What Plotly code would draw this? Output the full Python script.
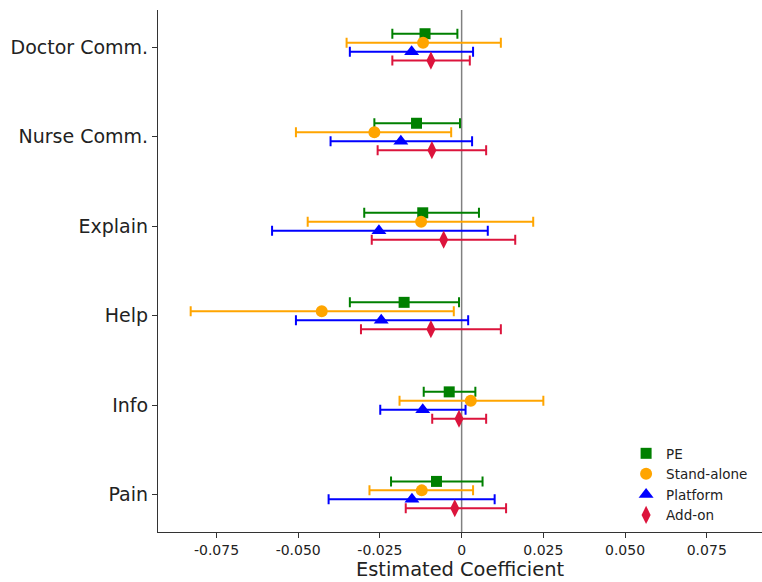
import plotly.graph_objects as go

categories = ["Doctor Comm.", "Nurse Comm.", "Explain", "Help", "Info", "Pain"]
series_names = ["PE", "Stand-alone", "Platform", "Add-on"]

pe_est = [-0.0112, -0.0138, -0.0119, -0.0176, -0.0038, -0.0077]
pe_lo = [-0.0212, -0.0267, -0.0298, -0.0342, -0.0116, -0.0216]
pe_hi = [-0.0013, -0.0005, 0.0053, -0.0008, 0.0042, 0.0064]

sa_est = [-0.0118, -0.0267, -0.0124, -0.0428, 0.0028, -0.0122]
sa_lo = [-0.0352, -0.0507, -0.0471, -0.0829, -0.0190, -0.0282]
sa_hi = [0.0120, -0.0032, 0.0219, -0.0024, 0.0250, 0.0035]

pl_est = [-0.0153, -0.0186, -0.0253, -0.0246, -0.0119, -0.0152]
pl_lo = [-0.0342, -0.0401, -0.0580, -0.0507, -0.0249, -0.0407]
pl_hi = [0.0035, 0.0032, 0.0080, 0.0020, 0.0012, 0.0101]

ad_est = [-0.0094, -0.0091, -0.0055, -0.0094, -0.0008, -0.0021]
ad_lo = [-0.0212, -0.0257, -0.0275, -0.0308, -0.0090, -0.0171]
ad_hi = [0.0025, 0.0075, 0.0164, 0.0120, 0.0075, 0.0136]

ests = [pe_est, sa_est, pl_est, ad_est]
los = [pe_lo, sa_lo, pl_lo, ad_lo]
his = [pe_hi, sa_hi, pl_hi, ad_hi]

colors = ["green", "orange", "blue", "crimson"]
symbols = ["square", "circle", "triangle-up", "diamond-tall"]
sizes = [11, 12, 13, 13]
offsets = [-0.15, -0.05, 0.05, 0.15]

fig = go.Figure()
fig.add_vline(x=0, line=dict(color="gray", width=1.5), layer="below")

for name, est, lo, hi, c, s, sz, off in zip(series_names, ests, los, his, colors, symbols, sizes, offsets):
    ypos = [i + off for i in range(len(categories))]
    fig.add_trace(go.Scatter(
        x=est, y=ypos, mode="markers", name=name,
        marker=dict(color=c, symbol=s, size=sz, line=dict(width=0)),
        error_x=dict(type="data", symmetric=False,
                     array=[h - e for h, e in zip(hi, est)],
                     arrayminus=[e - l for e, l in zip(est, lo)],
                     color=c, thickness=2, width=5),
    ))

font_family = "DejaVu Sans"
fig.update_layout(
    width=762, height=582,
    margin=dict(l=158, r=0, t=10, b=50),
    plot_bgcolor="white", paper_bgcolor="white",
    font=dict(family=font_family, color="#222"),
    showlegend=True,
    legend=dict(x=0.775, y=0.18, xanchor="left", yanchor="top",
                font=dict(size=13.5, family=font_family, color="#222"),
                bgcolor="rgba(0,0,0,0)", tracegroupgap=0, itemwidth=30),
    xaxis=dict(range=[-0.0929, 0.0919], tickvals=[-0.075, -0.05, -0.025, 0, 0.025, 0.05, 0.075],
               ticktext=["-0.075", "-0.050", "-0.025", "0", "0.025", "0.050", "0.075"],
               showgrid=False, zeroline=False, showline=True, linecolor="#333", linewidth=1.2,
               ticks="outside", ticklen=5, tickcolor="#333", tickfont=dict(size=14),
               title=dict(text="Estimated Coefficient", font=dict(size=19.4), standoff=4)),
    yaxis=dict(range=[5.415, -0.415], tickvals=list(range(len(categories))), ticktext=categories,
               showgrid=False, zeroline=False, showline=True, linecolor="#333", linewidth=1.2,
               ticks="outside", ticklen=5, tickcolor="#333", tickfont=dict(size=19)),
)

fig.write_html("out.html")
